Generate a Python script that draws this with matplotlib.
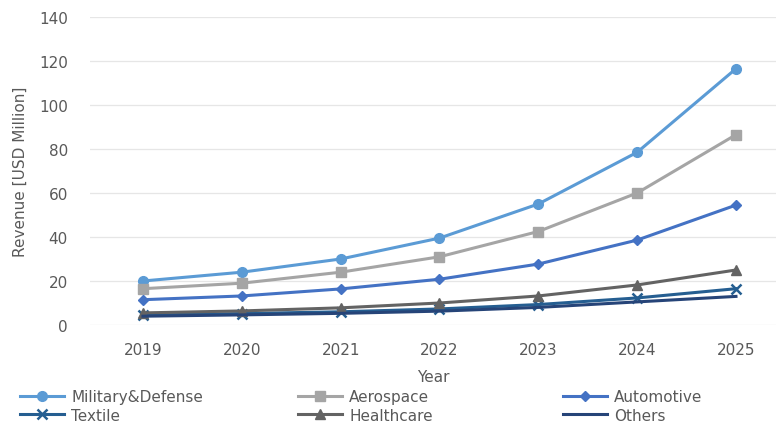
import matplotlib
matplotlib.use("Agg")
import matplotlib.pyplot as plt

years = ["2019", "2020", "2021", "2022", "2023", "2024", "2025"]
military = [20.0, 24.0, 30.0, 39.5, 55.0, 78.5, 116.5]
aerospace = [16.5, 19.0, 24.0, 31.0, 42.5, 60.0, 86.5]
automotive = [11.5, 13.2, 16.4, 20.8, 27.7, 38.6, 54.5]
textile = [4.5, 5.2, 6.0, 7.3, 9.3, 12.3, 16.5]
healthcare = [5.5, 6.4, 7.8, 10.0, 13.2, 18.2, 25.0]
others = [4.0, 4.6, 5.3, 6.3, 8.0, 10.5, 13.0]

series = [
    ("Military&Defense", military, "#5b9bd5", "o", 7),
    ("Aerospace", aerospace, "#a5a5a5", "s", 7),
    ("Automotive", automotive, "#4472c4", "D", 5),
    ("Textile", textile, "#255e91", "x", 7),
    ("Healthcare", healthcare, "#636363", "^", 7),
    ("Others", others, "#264478", "", 0),
]
TXT = "#595959"

fig = plt.figure(figsize=(7.76, 4.27), dpi=100)
ax = fig.add_axes([90 / 776, 101 / 427, 686 / 776, 308 / 427])
x = list(range(len(years)))
handles = []
for name, vals, col, mk, ms in series:
    h, = ax.plot(x, vals, color=col, lw=2.2, marker=mk if mk else None, ms=ms,
                 mew=1.8 if mk == "x" else 1, label=name)
    handles.append(h)

ax.set_xlim(-0.536, 6.405)
ax.set_ylim(0, 140)
ax.set_yticks(range(0, 141, 20))
ax.set_xticks(x)
ax.set_xticklabels(years)
ax.grid(axis="y", color="#e6e6e6", lw=0.9)
ax.set_axisbelow(True)
for s in ax.spines.values():
    s.set_visible(False)
ax.tick_params(length=0, colors=TXT, labelsize=11)
ax.tick_params(axis="x", pad=12)
ax.tick_params(axis="y", pad=16)
ax.set_xlabel("Year", color=TXT, fontsize=11, labelpad=9)
ax.set_ylabel("Revenue [USD Million]", color=TXT, fontsize=11, labelpad=8)

# one legend per column so the columns sit where the reference has them
col_x = [20 / 776, 298 / 776, 563 / 776]
for i, cx in enumerate(col_x):
    hs = [handles[i], handles[i + 3]]
    leg = fig.legend(hs, [h.get_label() for h in hs], loc="upper left",
                     bbox_to_anchor=(cx, 1 - 390 / 427), frameon=False, fontsize=11,
                     handlelength=2.9, labelspacing=0.25, handletextpad=0.45,
                     borderpad=0, borderaxespad=0)
    for t in leg.get_texts():
        t.set_color(TXT)

fig.savefig("out.png", dpi=100)
